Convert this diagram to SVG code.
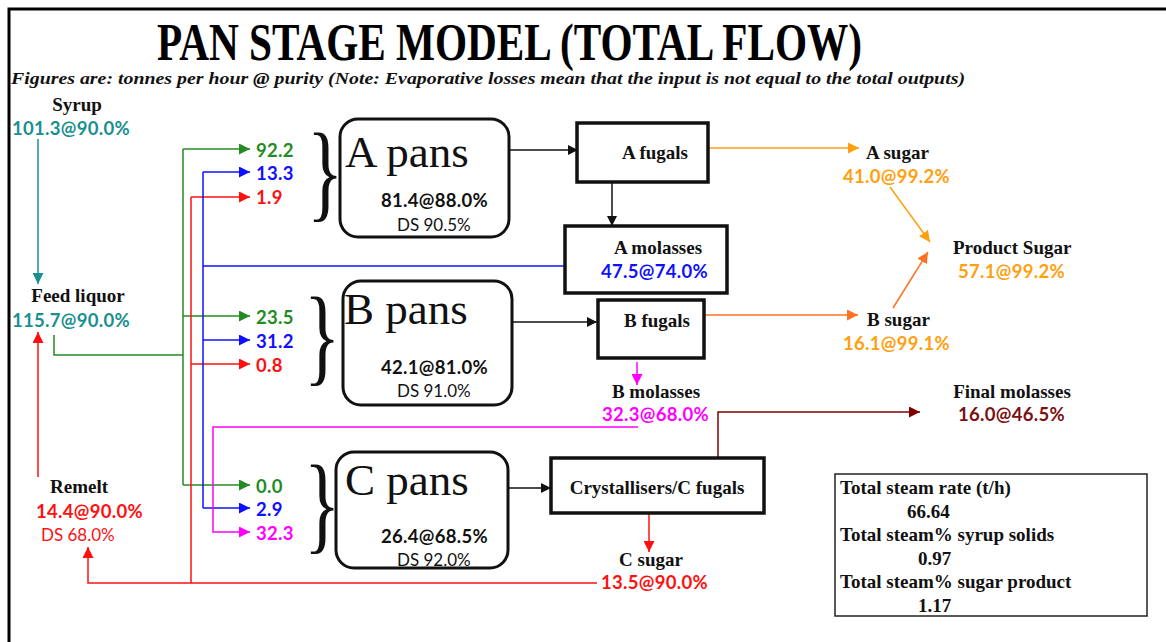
<svg xmlns="http://www.w3.org/2000/svg" width="1166" height="642" viewBox="0 0 1166 642">
<defs>
<style>
.lbl{font-family:"Liberation Serif","DejaVu Serif",serif;font-weight:bold;font-size:19px;fill:#111;}
.num{font-family:Lato,"Liberation Sans",sans-serif;font-weight:bold;font-size:18.5px;letter-spacing:0.3px;}
.ds{font-family:Lato,"Liberation Sans",sans-serif;font-size:17px;fill:#111;}
.big{font-family:"Liberation Serif","Times New Roman",serif;font-size:45px;fill:#111;}
.brace{font-family:"Liberation Serif","Times New Roman",serif;font-size:108px;fill:#111;}
.pan{fill:#fff;stroke:#111;stroke-width:3;}
.box{fill:#fff;stroke:#111;stroke-width:3.5;}
.ln{fill:none;stroke-width:1.5;}
</style>
<marker id="aK" viewBox="0 0 10 10" refX="10" refY="5" markerWidth="10" markerHeight="10" markerUnits="userSpaceOnUse" orient="auto"><path d="M0,0 L10,5 L0,10 z" fill="#111"/></marker>
<marker id="aT" viewBox="0 0 10 10" refX="10" refY="5" markerWidth="11" markerHeight="11" markerUnits="userSpaceOnUse" orient="auto"><path d="M0,0 L10,5 L0,10 z" fill="#1a8f8f"/></marker>
<marker id="aG" viewBox="0 0 10 10" refX="10" refY="5" markerWidth="11" markerHeight="11" markerUnits="userSpaceOnUse" orient="auto"><path d="M0,0 L10,5 L0,10 z" fill="#238b23"/></marker>
<marker id="aB" viewBox="0 0 10 10" refX="10" refY="5" markerWidth="11" markerHeight="11" markerUnits="userSpaceOnUse" orient="auto"><path d="M0,0 L10,5 L0,10 z" fill="#1010ff"/></marker>
<marker id="aR" viewBox="0 0 10 10" refX="10" refY="5" markerWidth="11" markerHeight="11" markerUnits="userSpaceOnUse" orient="auto"><path d="M0,0 L10,5 L0,10 z" fill="#ff1010"/></marker>
<marker id="aM" viewBox="0 0 10 10" refX="10" refY="5" markerWidth="11" markerHeight="11" markerUnits="userSpaceOnUse" orient="auto"><path d="M0,0 L10,5 L0,10 z" fill="#ff00ff"/></marker>
<marker id="aO" viewBox="0 0 10 10" refX="10" refY="5" markerWidth="11" markerHeight="11" markerUnits="userSpaceOnUse" orient="auto"><path d="M0,0 L10,5 L0,10 z" fill="#ffa010"/></marker>
<marker id="aD" viewBox="0 0 10 10" refX="10" refY="5" markerWidth="11" markerHeight="11" markerUnits="userSpaceOnUse" orient="auto"><path d="M0,0 L10,5 L0,10 z" fill="#ff7020"/></marker>
<marker id="aW" viewBox="0 0 10 10" refX="10" refY="5" markerWidth="11" markerHeight="11" markerUnits="userSpaceOnUse" orient="auto"><path d="M0,0 L10,5 L0,10 z" fill="#800000"/></marker>
</defs>
<rect x="0" y="0" width="1166" height="642" fill="#fff"/>
<path d="M9,642 V9 H1166" fill="none" stroke="#000" stroke-width="3"/>

<g id="title">
<text x="157" y="60" textLength="705" lengthAdjust="spacingAndGlyphs" style="font-family:'Liberation Serif',serif;font-weight:bold;font-size:52px;fill:#000;">PAN STAGE MODEL (TOTAL FLOW)</text>
<text x="11" y="84" textLength="954" lengthAdjust="spacingAndGlyphs" style="font-family:'Liberation Serif',serif;font-weight:bold;font-style:italic;font-size:16px;fill:#111;">Figures are: tonnes per hour @ purity  (Note: Evaporative losses mean that the input is not equal to the total outputs)</text>
</g>

<g id="connectors">
<path class="ln" d="M38,139 V284" stroke="#1a8f8f" marker-end="url(#aT)"/>
<path class="ln" d="M38,477 V332" stroke="#ff1010" marker-end="url(#aR)"/>
<path class="ln" d="M54,335 V355 H183" stroke="#238b23"/>
<path class="ln" d="M183,149 V485" stroke="#238b23"/>
<path class="ln" d="M183,149 H250" stroke="#238b23" marker-end="url(#aG)"/>
<path class="ln" d="M183,316 H250" stroke="#238b23" marker-end="url(#aG)"/>
<path class="ln" d="M183,485 H250" stroke="#238b23" marker-end="url(#aG)"/>
<path class="ln" d="M191,197 V583" stroke="#ff1010"/>
<path class="ln" d="M191,197 H250" stroke="#ff1010" marker-end="url(#aR)"/>
<path class="ln" d="M191,364 H250" stroke="#ff1010" marker-end="url(#aR)"/>
<path class="ln" d="M597,583 H88 V547" stroke="#ff1010" marker-end="url(#aR)"/>
<path class="ln" d="M203,172 V508" stroke="#1010ff"/>
<path class="ln" d="M203,266 H565" stroke="#1010ff"/>
<path class="ln" d="M203,172 H250" stroke="#1010ff" marker-end="url(#aB)"/>
<path class="ln" d="M203,340 H250" stroke="#1010ff" marker-end="url(#aB)"/>
<path class="ln" d="M203,508 H250" stroke="#1010ff" marker-end="url(#aB)"/>
<path class="ln" d="M638,427 H213 V532 H250" stroke="#ff00ff" marker-end="url(#aM)"/>
<path class="ln" d="M637,362 V385" stroke="#ff00ff" marker-end="url(#aM)"/>
<path class="ln" d="M509,150 H578" stroke="#111" marker-end="url(#aK)"/>
<path class="ln" d="M612,182 V226" stroke="#111" marker-end="url(#aK)"/>
<path class="ln" d="M512,322 H597" stroke="#111" marker-end="url(#aK)"/>
<path class="ln" d="M508,488 H551" stroke="#111" marker-end="url(#aK)"/>
<path class="ln" d="M649,514 V552" stroke="#ff1010" marker-end="url(#aR)"/>
<path class="ln" d="M718,458 V412 H920" stroke="#800000" marker-end="url(#aW)"/>
<path class="ln" d="M709,148 H859" stroke="#ffa010" marker-end="url(#aO)"/>
<path class="ln" d="M890,187 L930,242" stroke="#ffa010" marker-end="url(#aO)"/>
<path class="ln" d="M705,315 H858" stroke="#ff7020" marker-end="url(#aD)"/>
<path class="ln" d="M893,308 L928,252" stroke="#ff7020" marker-end="url(#aD)"/>
</g>

<g id="syrup">
<text class="lbl" x="77" y="111" text-anchor="middle">Syrup</text>
<text class="num" x="12" y="135" fill="#1a8f8f">101.3@90.0%</text>
</g>
<g id="feed-liquor">
<text class="lbl" x="78" y="302" text-anchor="middle">Feed liquor</text>
<text class="num" x="12" y="327" fill="#1a8f8f">115.7@90.0%</text>
</g>
<g id="remelt">
<text class="lbl" x="79" y="493" text-anchor="middle">Remelt</text>
<text class="num" x="36" y="518" fill="#ff1010">14.4@90.0%</text>
<text class="ds" x="41" y="541" style="fill:#ff1010">DS 68.0%</text>
</g>

<g id="feed-labels">
<text class="num" x="256" y="157" fill="#238b23">92.2</text>
<text class="num" x="256" y="180" fill="#1010ff">13.3</text>
<text class="num" x="256" y="204" fill="#ff1010">1.9</text>
<text class="num" x="256" y="324" fill="#238b23">23.5</text>
<text class="num" x="256" y="348" fill="#1010ff">31.2</text>
<text class="num" x="256" y="372" fill="#ff1010">0.8</text>
<text class="num" x="256" y="493" fill="#238b23">0.0</text>
<text class="num" x="256" y="516" fill="#1010ff">2.9</text>
<text class="num" x="256" y="540" fill="#ff00ff">32.3</text>
</g>

<g id="a-pans">
<text class="brace" x="0" y="0" transform="translate(307,208) scale(0.7,1)">}</text>
<rect class="pan" x="340" y="119" width="169" height="118" rx="18"/>
<text class="big" x="345" y="167">A pans</text>
<text class="num" x="381" y="207" fill="#111">81.4@88.0%</text>
<text class="ds" x="397" y="231">DS 90.5%</text>
</g>
<g id="b-pans">
<text class="brace" x="0" y="0" transform="translate(304,372) scale(0.7,1)">}</text>
<rect class="pan" x="343" y="281" width="169" height="124" rx="18"/>
<text class="big" x="344" y="324">B pans</text>
<text class="num" x="381" y="374" fill="#111">42.1@81.0%</text>
<text class="ds" x="397" y="397">DS 91.0%</text>
</g>
<g id="c-pans">
<text class="brace" x="0" y="0" transform="translate(304,540) scale(0.7,1)">}</text>
<rect class="pan" x="336" y="452" width="172" height="116" rx="18"/>
<text class="big" x="345" y="495">C pans</text>
<text class="num" x="381" y="543" fill="#111">26.4@68.5%</text>
<text class="ds" x="397" y="566">DS 92.0%</text>
</g>

<g id="a-fugals">
<rect class="box" x="577" y="123" width="131" height="59"/>
<text class="lbl" x="622" y="159">A fugals</text>
</g>
<g id="a-molasses">
<rect class="box" x="565" y="226" width="162" height="67"/>
<text class="lbl" x="658" y="254" text-anchor="middle">A molasses</text>
<text class="num" x="601" y="278" fill="#1010ff">47.5@74.0%</text>
</g>
<g id="b-fugals">
<rect class="box" x="598" y="300" width="106" height="58"/>
<text class="lbl" x="624" y="327">B fugals</text>
</g>
<g id="b-molasses">
<text class="lbl" x="656" y="398" text-anchor="middle">B molasses</text>
<text class="num" x="602" y="421" fill="#ff00ff">32.3@68.0%</text>
</g>
<g id="crystallisers">
<rect class="box" x="551" y="458" width="213" height="55"/>
<text class="lbl" x="657" y="494" text-anchor="middle">Crystallisers/C fugals</text>
</g>
<g id="c-sugar">
<text class="lbl" x="651" y="566" text-anchor="middle">C sugar</text>
<text class="num" x="601" y="589" fill="#ff1010">13.5@90.0%</text>
</g>
<g id="a-sugar">
<text class="lbl" x="866" y="159">A sugar</text>
<text class="num" x="843" y="183" fill="#ffa010">41.0@99.2%</text>
</g>
<g id="b-sugar">
<text class="lbl" x="867" y="326">B sugar</text>
<text class="num" x="843" y="350" fill="#ffa010">16.1@99.1%</text>
</g>
<g id="product-sugar">
<text class="lbl" x="953" y="254">Product Sugar</text>
<text class="num" x="958" y="278" fill="#ffa010">57.1@99.2%</text>
</g>
<g id="final-molasses">
<text class="lbl" x="1012" y="398" text-anchor="middle">Final molasses</text>
<text class="num" x="958" y="421" fill="#7a1010">16.0@46.5%</text>
</g>
<g id="steam-box">
<rect x="835" y="474" width="312" height="142" fill="#fff" stroke="#222" stroke-width="1.5"/>
<text class="lbl" x="840" y="494">Total steam rate (t/h)</text>
<text class="lbl" x="907" y="518">66.64</text>
<text class="lbl" x="840" y="541">Total steam% syrup solids</text>
<text class="lbl" x="918" y="565">0.97</text>
<text class="lbl" x="840" y="588">Total steam% sugar product</text>
<text class="lbl" x="918" y="612">1.17</text>
</g>
</svg>
